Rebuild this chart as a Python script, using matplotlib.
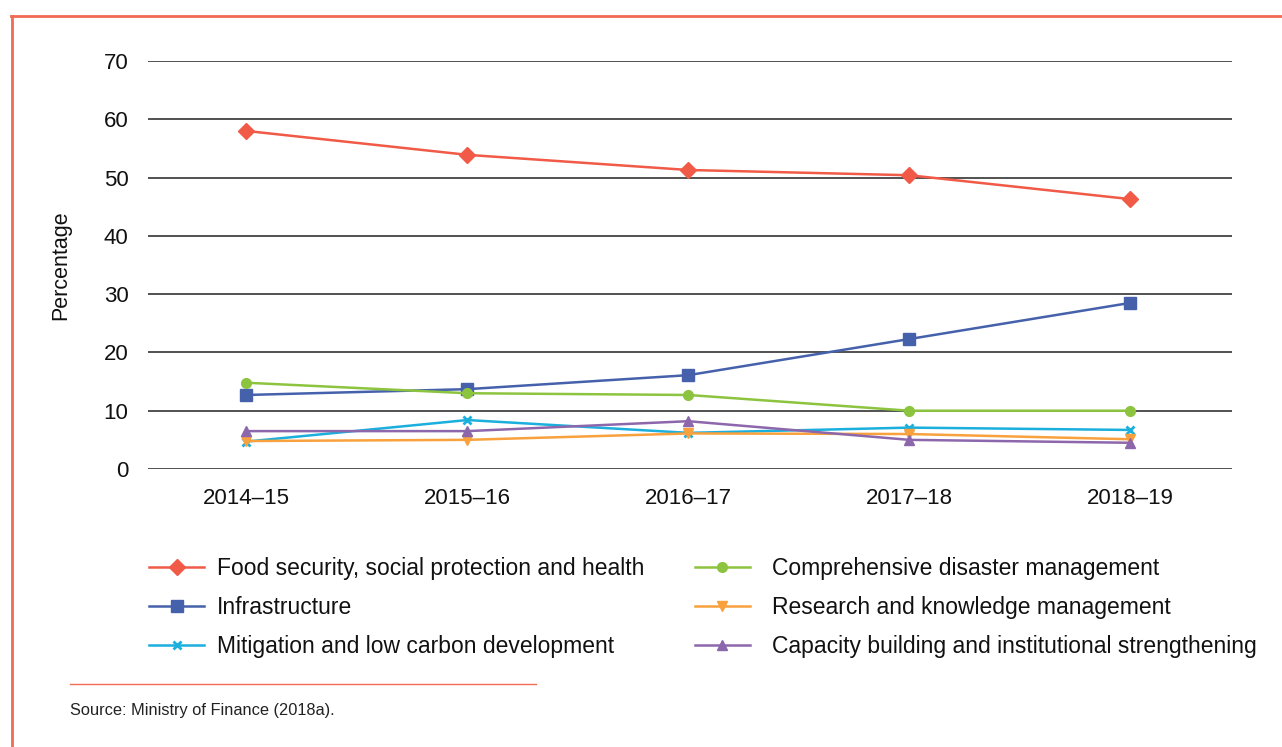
import matplotlib
matplotlib.use("Agg")
import matplotlib.pyplot as plt
from matplotlib.lines import Line2D

plt.rcParams['font.family'] = ['Liberation Sans', 'DejaVu Sans']

years = ["2014–15", "2015–16", "2016–17", "2017–18", "2018–19"]
food = [58.0, 53.9, 51.3, 50.4, 46.3]
infrastructure = [12.7, 13.7, 16.1, 22.3, 28.5]
disaster = [14.8, 13.0, 12.7, 10.0, 10.0]
mitigation = [4.7, 8.4, 6.2, 7.1, 6.7]
research = [4.8, 5.0, 6.1, 6.0, 5.1]
capacity = [6.5, 6.5, 8.2, 5.0, 4.5]

labels = [
    "Food security, social protection and health",
    "Comprehensive disaster management",
    "Infrastructure",
    "Research and knowledge management",
    "Mitigation and low carbon development",
    "Capacity building and institutional strengthening",
]

W, H = 1282, 747
fig = plt.figure(figsize=(W / 100, H / 100), dpi=100)
ax = fig.add_axes([148 / W, 1 - 469 / H, (1232 - 148) / W, (469 - 61) / H])

x = list(range(len(years)))
series = {
    "food": (food, "#F05A46", "D", 8),
    "infra": (infrastructure, "#4661AC", "s", 8),
    "mit": (mitigation, "#1AAFDC", "x", 6),
    "dis": (disaster, "#8DC43F", "o", 7),
    "res": (research, "#F8A13D", "v", 7),
    "cap": (capacity, "#8D67AC", "^", 7),
}
lines = {}
for k, (vals, c, m, ms) in series.items():
    mew = 2 if m == "x" else 1
    (ln,) = ax.plot(x, vals, color=c, marker=m, markersize=ms, linewidth=1.8,
                    markeredgewidth=mew, markeredgecolor=c, zorder=3)
    lines[k] = ln

ax.set_xlim(-0.445, 4.46)
ax.set_ylim(0, 70)
ax.set_yticks(range(0, 71, 10))
ax.set_xticks(x)
ax.set_xticklabels(years)
ax.yaxis.grid(True, color="#222222", linewidth=1.1)
ax.set_axisbelow(True)
for s in ax.spines.values():
    s.set_visible(False)
ax.tick_params(axis="both", length=0, labelsize=16, colors="#111111")
ax.tick_params(axis="y", pad=14)
ax.tick_params(axis="x", pad=14)
ax.set_ylabel("Percentage", fontsize=15.5, color="#111111", labelpad=23)

common = dict(loc="upper left", frameon=False, fontsize=16.5, handlelength=2.4,
              labelspacing=0.69, borderpad=0, borderaxespad=0)
leg1 = fig.legend([lines["food"], lines["infra"], lines["mit"]],
                  [labels[0], labels[2], labels[4]],
                  bbox_to_anchor=(149 / W, 1 - 557 / H), handletextpad=0.57, **common)
leg2 = fig.legend([lines["dis"], lines["res"], lines["cap"]],
                  [labels[1], labels[3], labels[5]],
                  bbox_to_anchor=(695 / W, 1 - 557 / H), handletextpad=0.97, **common)
for leg in (leg1, leg2):
    for t in leg.get_texts():
        t.set_color("#111111")

# frame
red = "#F26A55"
fig.add_artist(Line2D([11 / W, 1.0], [1 - 16 / H, 1 - 16 / H], color=red, linewidth=2.0,
                      transform=fig.transFigure))
fig.add_artist(Line2D([12 / W, 12 / W], [0, 1 - 16 / H], color=red, linewidth=2.0,
                      transform=fig.transFigure))
fig.add_artist(Line2D([70 / W, 536 / W], [1 - 684 / H, 1 - 684 / H], color=red, linewidth=1.0,
                      transform=fig.transFigure))
fig.text(70 / W, 1 - 710 / H, "Source: Ministry of Finance (2018a).", fontsize=11.8,
         color="#222222", va="center", ha="left")

fig.savefig("out.png", dpi=100)
